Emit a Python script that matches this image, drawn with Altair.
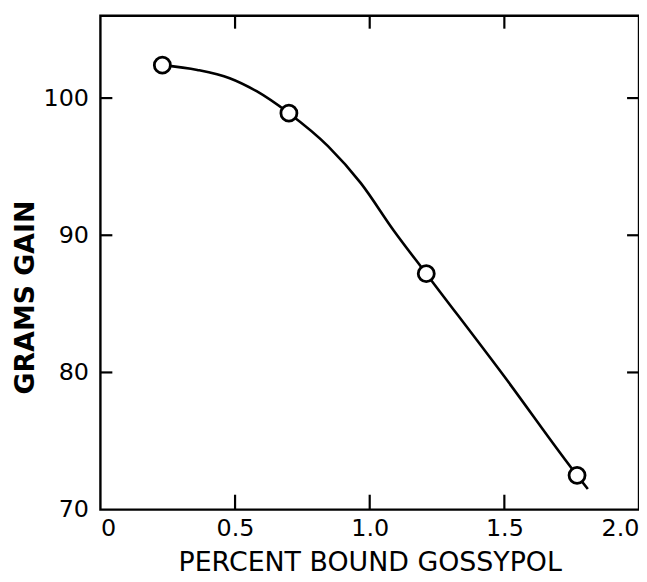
import altair as alt
import pandas as pd

# measured data points (open circles)
points_x = [0.23, 0.70, 1.21, 1.77]
points_y = [102.4, 98.9, 87.2, 72.5]

# hand-drawn smooth curve
curve_x = [0.23, 0.36, 0.48, 0.58, 0.70, 0.845, 0.967, 1.089, 1.21, 1.50, 1.77, 1.81]
curve_y = [102.4, 102.05, 101.45, 100.5, 98.9, 96.5, 93.8, 90.35, 87.2, 79.7, 72.5, 71.5]

# axis ticks
x_ticks = [0, 0.5, 1.0, 1.5, 2.0]
y_ticks = [70, 80, 90, 100]
x_inner_ticks = [0.5, 1.0, 1.5]
y_inner_ticks = [80, 90, 100]

x_title = "PERCENT BOUND GOSSYPOL"
y_title = "GRAMS GAIN"

W, H = 542, 497
PAD_BOTTOM = 68
FONT = "DejaVu Sans"

pts = pd.DataFrame({"x": points_x, "y": points_y})
crv = pd.DataFrame({"x": curve_x, "y": curve_y})
xt = pd.DataFrame({"x": x_inner_ticks})
yt = pd.DataFrame({"y": y_inner_ticks})

xscale = alt.Scale(domain=[0, 2.0], nice=False, zero=False)
yscale = alt.Scale(domain=[70, 106], nice=False, zero=False)

x_axis = alt.Axis(
    values=x_ticks, labelExpr="datum.value == 0 ? '0' : format(datum.value, '.1f')",
    title=x_title, titleFont=FONT, titleFontSize=27, titleFontWeight="normal",
    titleColor="black", titleY=61, titleBaseline="alphabetic",
    labelFont=FONT, labelFontSize=24, labelColor="black", labelPadding=7,
    labelFlush=True, ticks=False, domain=False, grid=False,
)
y_axis = alt.Axis(
    values=y_ticks, format="d",
    title=y_title, titleFont=FONT, titleFontSize=27, titleFontWeight="bold",
    titleColor="black", titleAngle=270, titleX=-75, titleY=283,
    titleAlign="center", titleBaseline="middle",
    labelFont=FONT, labelFontSize=24, labelColor="black", labelPadding=12,
    ticks=False, domain=False, grid=False,
)

X = lambda f: alt.X(f"{f}:Q", scale=xscale, axis=x_axis, title=x_title)
Y = lambda f: alt.Y(f"{f}:Q", scale=yscale, axis=y_axis, title=y_title)

line = alt.Chart(crv).mark_line(
    interpolate="monotone", color="black", strokeWidth=2.6
).encode(x=X("x"), y=Y("y"))

circles = alt.Chart(pts).mark_circle(
    fill="white", stroke="black", strokeWidth=2.8, size=260, opacity=1
).encode(x=X("x"), y=Y("y"))

tick_style = dict(color="black", strokeWidth=2.2)
left_ticks = alt.Chart(yt).mark_rule(**tick_style).encode(
    y=Y("y"), x=alt.value(0), x2=alt.value(12))
right_ticks = alt.Chart(yt).mark_rule(**tick_style).encode(
    y=Y("y"), x=alt.value(W - 12), x2=alt.value(W))
top_ticks = alt.Chart(xt).mark_rule(**tick_style).encode(
    x=X("x"), y=alt.value(0), y2=alt.value(13))
bottom_ticks = alt.Chart(xt).mark_rule(**tick_style).encode(
    x=X("x"), y=alt.value(H - 15), y2=alt.value(H))

chart = alt.layer(
    line, left_ticks, right_ticks, top_ticks, bottom_ticks, circles
).properties(
    width=W, height=H,
    autosize=alt.AutoSizeParams(type="none"),
    padding={"left": 93, "top": 6, "right": 0, "bottom": PAD_BOTTOM},
    background="white",
).configure_view(
    stroke="black", strokeWidth=2.4
)

chart.save("out.html", embed_options={"renderer": "svg", "actions": False})
